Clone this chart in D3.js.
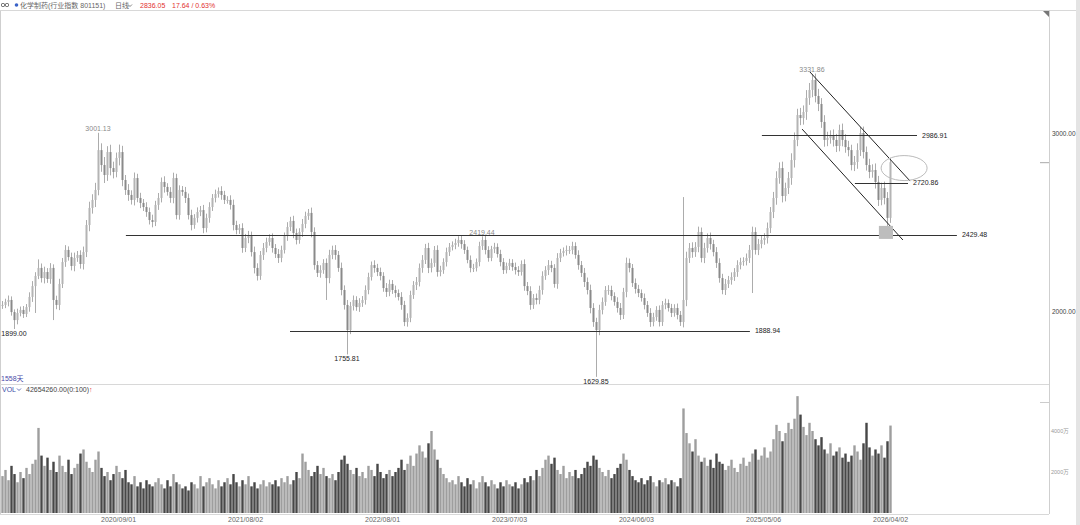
<!DOCTYPE html>
<html lang="zh">
<head>
<meta charset="UTF-8">
<title>化学制药(行业指数 801151)</title>
<script src="https://cdn.jsdelivr.net/npm/d3@7"></script>
<style>
  html, body { margin: 0; padding: 0; background: #fff; }
  svg { display: block; }
  text { font-family: "Liberation Sans", "Noto Sans CJK SC", sans-serif; }
</style>
</head>
<body>
<svg width="1080" height="525"></svg>
<script>
// closing price of each sampled bar (about 5 trading days each)
const closes = [
  2034, 2051, 2062, 1994, 1949, 1989, 2006, 1983, 2022, 2079,
  2140, 2197, 2242, 2185, 2219, 2180, 2242, 2062, 2034, 2152,
  2275, 2343, 2303, 2253, 2298, 2315, 2264, 2331, 2483, 2579,
  2624, 2680, 2904, 2820, 2764, 2893, 2803, 2781, 2860, 2893,
  2736, 2680, 2652, 2624, 2747, 2635, 2607, 2584, 2556, 2511,
  2500, 2596, 2635, 2725, 2697, 2669, 2635, 2747, 2539, 2680,
  2669, 2635, 2539, 2483, 2523, 2556, 2567, 2466, 2523, 2584,
  2635, 2657, 2674, 2652, 2624, 2624, 2596, 2483, 2455, 2466,
  2354, 2410, 2421, 2331, 2242, 2197, 2315, 2354, 2388, 2410,
  2354, 2320, 2298, 2343, 2421, 2472, 2506, 2438, 2399, 2444,
  2489, 2534, 2551, 2444, 2258, 2214, 2230, 2270, 2185, 2315,
  2343, 2315, 2242, 2118, 2034, 1893, 2028, 2062, 2022, 2045,
  2062, 2118, 2191, 2258, 2242, 2219, 2197, 2129, 2107, 2152,
  2118, 2101, 2079, 2034, 1938, 1961, 2090, 2146, 2163, 2242,
  2287, 2354, 2242, 2270, 2343, 2219, 2230, 2275, 2331, 2360,
  2371, 2382, 2399, 2376, 2343, 2287, 2242, 2242, 2275, 2365,
  2399, 2343, 2298, 2348, 2360, 2320, 2275, 2230, 2253, 2270,
  2247, 2230, 2219, 2264, 2140, 2112, 2034, 2073, 2062, 2118,
  2197, 2230, 2258, 2242, 2152, 2298, 2326, 2337, 2343, 2343,
  2365, 2315, 2258, 2214, 2163, 2118, 2017, 1938, 1893, 2006,
  2051, 2118, 2118, 2084, 2051, 2017, 1978, 2107, 2270, 2242,
  2157, 2124, 2101, 2073, 2034, 1989, 1938, 1966, 2006, 1938,
  2034, 2045, 2017, 1989, 2017, 1978, 1938, 2062, 2298, 2354,
  2331, 2360, 2444, 2298, 2354, 2410, 2376, 2331, 2270, 2185,
  2118, 2152, 2174, 2191, 2219, 2258, 2275, 2281, 2298, 2343,
  2444, 2343, 2376, 2399, 2410, 2466, 2556, 2635, 2747, 2803,
  2646, 2691, 2747, 2848, 2961, 3101, 3084, 3118, 3197, 3242,
  3298, 3208, 3163, 3062, 2961, 2972, 2983, 2961, 2927, 3017,
  2961, 2921, 2904, 2820, 2837, 2904, 3000, 2893, 2820, 2781,
  2792, 2725, 2624, 2691, 2635, 2523, 2836.05
];

// how far the daily highs/lows of each sampled bar reach past its body (points)
const spread = [
  22, 18, 25, 20, 15, 24, 19, 22, 17, 26,
  28, 21, 18, 25, 30, 22, 27, 20, 24, 29,
  23, 27, 20, 25, 30, 22, 26, 31, 28, 35,
  32, 40, 30, 38, 45, 33, 41, 36, 30, 42,
  35, 28, 33, 26, 31, 24, 29, 22, 27, 25,
  30, 23, 28, 25, 32, 21, 27, 30, 24, 26,
  22, 28, 25, 30, 21, 26, 23, 29, 24, 27,
  22, 25, 20, 27, 23, 21, 26, 30, 24, 22,
  27, 23, 29, 25, 31, 26, 22, 28, 24, 21,
  26, 22, 28, 24, 20, 27, 23, 29, 25, 21,
  28, 24, 22, 30, 26, 23, 27, 21, 25, 29,
  24, 27, 22, 30, 26, 28, 23, 25, 21, 27,
  22, 26, 24, 20, 27, 23, 25, 21, 28, 24,
  22, 25, 20, 27, 23, 26, 24, 22, 28, 25,
  27, 23, 29, 25, 22, 26, 24, 21, 25, 22,
  20, 24, 21, 26, 22, 19, 25, 23, 20, 24,
  22, 25, 21, 18, 23, 20, 24, 22, 19, 23,
  21, 25, 22, 20, 26, 23, 27, 22, 25, 24,
  26, 22, 28, 24, 21, 27, 23, 20, 25, 22,
  24, 21, 26, 23, 28, 25, 30, 27, 24, 29,
  25, 22, 27, 24, 21, 26, 28, 23, 30, 25,
  22, 26, 23, 20, 25, 22, 27, 24, 21, 25,
  22, 24, 20, 23, 21, 25, 22, 30, 35, 28,
  32, 27, 30, 25, 29, 26, 31, 24, 28, 26,
  24, 28, 23, 26, 22, 27, 24, 21, 25, 28,
  30, 26, 29, 24, 27, 31, 28, 34, 38, 32,
  36, 30, 34, 38, 42, 35, 40, 37, 44, 39,
  41, 36, 40, 33, 38, 35, 32, 37, 34, 30,
  36, 32, 35, 30, 34, 38, 33, 36, 31, 35,
  32, 37, 34, 30, 36, 33, 28
];

// volume of each sampled bar, in 万
const volumes = [
  1800, 2100, 1600, 2300, 1900, 1500, 2000, 1700, 2200, 1900,
  2400, 2600, 4150, 2800, 2300, 2700, 2100, 2500, 2000, 2800,
  2300, 2000, 2600, 1900, 2200, 2400, 2900, 3100, 2500, 2200,
  2000, 2600, 3000, 2200, 1800, 2000, 1600, 1900, 2300, 2000,
  1700, 2100, 1500, 1400, 1800, 1300, 1500, 1200, 1600, 1400,
  1300, 1500, 1700, 1400, 1200, 1600, 1300, 1900, 1500, 1400,
  1200, 1300, 1100, 1500, 1400, 1200, 1800, 1300, 1500, 1700,
  1400, 1200, 1600, 1300, 1500, 1700, 1400, 1900, 1500, 1300,
  1600, 1400, 1800, 1300, 1500, 1200, 1400, 1600, 1300, 1500,
  1400, 1600, 1300, 1700, 1500, 1800, 1400, 1600, 2000, 1700,
  2900, 2500, 2100, 1800, 2000, 2300, 1900, 2200, 1800, 1700,
  1900, 1600, 2000, 2600, 2800, 2400, 2100, 1900, 2200, 1800,
  2000, 1700, 2300, 2100, 1800, 2400, 2000, 1700, 1900, 2100,
  1800, 2000, 2200, 2600, 2100, 2400, 2800, 2300, 2900, 3300,
  3000, 2700, 3400, 4000, 3100, 2600, 2200, 1900, 1700, 1500,
  1600, 1400, 1800, 1500, 1300, 1700, 1400, 1600, 1200, 1500,
  1800, 1500, 1300, 1600, 1400, 1200, 1500, 1300, 1600, 1400,
  1300, 1500, 1200, 1400, 1700, 1500, 1800, 1600, 2100, 1800,
  2200, 2600, 2800, 2400, 2700, 2100, 1900, 2300, 1700, 2000,
  1800, 2100, 1700, 1900, 2200, 2500, 2300, 2800, 2600, 2200,
  2000, 1800, 2100, 1700, 1900, 2200, 2400, 2900, 2600, 2100,
  1800, 1600, 1500, 1700, 1400, 1600, 1800, 1500, 1300, 1600,
  1500, 1700, 1400, 1600, 1500, 1300, 1700, 5100, 3900, 3400,
  3000, 3600, 2800, 2500, 2700, 2300, 2600, 2200, 2900, 2500,
  2400, 2100, 2300, 2600, 2200, 2000, 2400, 2700, 2300, 2500,
  2900, 3100, 2600, 2800, 3200, 2700, 3000, 3600, 4300, 4000,
  3500, 3900, 4400, 4100, 4600, 5700, 4800, 4200, 3800, 4400,
  4000, 3600, 3300, 3700, 3100, 2900, 3400, 2800, 3000, 3200,
  2700, 2900, 2500, 2800, 3300, 3000, 2600, 3400, 4400, 3200,
  2800, 3100, 2900, 3300, 2700, 3500, 4265.426
];

// wick extremes that reach past the usual range
const lowIdx = [4, 11, 17, 108, 115, 198, 250, 295];
const lowVal = [1899.00, 1989, 1949, 2062, 1755.81, 1629.85, 2101, 2462];
const highIdx = [12, 32, 160, 227, 270, 296];
const highVal = [2290, 3001.13, 2419.44, 2640, 3331.86, 2860];

// labelled extremes
const markIdx = [4, 32, 115, 160, 198, 270];
const markVal = [1899.00, 3001.13, 1755.81, 2419.44, 1629.85, 3331.86];
const markSide = ["low", "high", "low", "high", "low", "high"];

// drawn support / resistance lines
const levelVal = [2429.48, 1888.94, 2986.91, 2720.86];
const levelFrom = [41.3, 96, 253.3, 284.3];
const levelTo = [318.3, 249.3, 305, 302];

// falling channel
const channelUpper = [[269.3, 3343], [302.7, 2730]];
const channelLower = [[266.7, 3022], [300.3, 2399]];

const dateLabels = ["2020/09/01", "2021/08/02", "2022/08/01", "2023/07/03", "2024/06/03", "2025/05/06", "2026/04/02"];
const dateIdx = [38.67, 81, 126.67, 169, 211.33, 253.67, 296];
const priceTicks = [2000, 3000];
const volTicks = [2000, 4000];

const svg = d3.select("svg");
const n = closes.length;

const x = d3.scaleLinear().domain([0, n - 1]).range([2, 890]);
const y = d3.scaleLinear().domain([2000, 3000]).range([311, 133]);
const yv = d3.scaleLinear().domain([0, 4000]).range([513, 431]);

const bars = closes.map((c, i) => {
  const o = i === 0 ? c : closes[i - 1];
  let hi = Math.max(o, c) + spread[i], lo = Math.min(o, c) - spread[i];
  const h = highIdx.indexOf(i), l = lowIdx.indexOf(i);
  if (h >= 0) hi = highVal[h];
  if (l >= 0) lo = lowVal[l];
  return { i, o, c, hi, lo, v: volumes[i] };
});

// frame
svg.append("rect").attr("x", 1076).attr("y", 0).attr("width", 4).attr("height", 525).attr("fill", "#e4e4e4");
svg.append("line").attr("x1", 0.5).attr("x2", 0.5).attr("y1", 10).attr("y2", 514).attr("stroke", "#cfcfcf");
svg.append("line").attr("x1", 0).attr("x2", 1076).attr("y1", 10.5).attr("y2", 10.5).attr("stroke", "#d8d8d8");
svg.append("line").attr("x1", 1049.5).attr("x2", 1049.5).attr("y1", 10).attr("y2", 514).attr("stroke", "#cfcfcf");
svg.append("line").attr("x1", 0).attr("x2", 1049).attr("y1", 384.5).attr("y2", 384.5).attr("stroke", "#d8d8d8");
svg.append("line").attr("x1", 0).attr("x2", 1049).attr("y1", 514.5).attr("y2", 514.5).attr("stroke", "#d8d8d8");
svg.append("path").attr("d", "M1043,11 L1049,11 L1049,17 Z").attr("fill", "#777");
svg.append("line").attr("x1", 1040).attr("x2", 1049).attr("y1", y(closes[n - 1]) + 0.5).attr("y2", y(closes[n - 1]) + 0.5).attr("stroke", "#aaa");
svg.append("line").attr("x1", 1040).attr("x2", 1049).attr("y1", 402.5).attr("y2", 402.5).attr("stroke", "#ccc");

// header
const head = svg.append("g");
head.append("rect").attr("x", 1.5).attr("y", 3.5).attr("width", 3).attr("height", 3).attr("rx", 1).attr("fill", "none").attr("stroke", "#555");
head.append("rect").attr("x", 5.5).attr("y", 3.5).attr("width", 3).attr("height", 3).attr("rx", 1).attr("fill", "none").attr("stroke", "#555");
head.append("circle").attr("cx", 16.5).attr("cy", 5).attr("r", 1.8).attr("fill", "#3a62c8");
head.append("text").attr("x", 20).attr("y", 7.8).attr("font-size", 7).attr("fill", "#666").text("化学制药(行业指数 801151)");
head.append("text").attr("x", 115).attr("y", 7.8).attr("font-size", 7).attr("fill", "#666").text("日线");
head.append("path").attr("d", "M128,4.5 L130,6.5 L132,4.5").attr("fill", "none").attr("stroke", "#666").attr("stroke-width", 0.8);
head.append("text").attr("x", 140).attr("y", 7.8).attr("font-size", 7).attr("fill", "#e2312f").text("2836.05");
head.append("text").attr("x", 172).attr("y", 7.8).attr("font-size", 7).attr("fill", "#e2312f").text("17.64 / 0.63%");

// candles
const cg = svg.append("g");
cg.selectAll("line.wick").data(bars).enter().append("line")
  .attr("class", "wick")
  .attr("x1", d => Math.round(x(d.i)) + 0.5).attr("x2", d => Math.round(x(d.i)) + 0.5)
  .attr("y1", d => y(d.hi)).attr("y2", d => y(d.lo))
  .attr("stroke", "#acacac").attr("stroke-width", 1);
cg.selectAll("rect.body").data(bars).enter().append("rect")
  .attr("class", "body")
  .attr("x", d => Math.round(x(d.i)) - 0.5).attr("width", 2)
  .attr("y", d => y(Math.max(d.o, d.c)))
  .attr("height", d => Math.max(1, Math.abs(y(d.o) - y(d.c))))
  .attr("fill", d => d.c >= d.o ? "#b4b4b4" : "#8a8a8a");

// volume bars
svg.append("g").selectAll("rect").data(bars).enter().append("rect")
  .attr("x", d => Math.round(x(d.i)) - 0.7).attr("width", 2.4)
  .attr("y", d => yv(d.v)).attr("height", d => yv(0) - yv(d.v))
  .attr("fill", d => d.c >= d.o ? "#9e9e9e" : "#474747");

// levels
const lg = svg.append("g");
levelVal.forEach((v, k) => {
  lg.append("line")
    .attr("x1", x(levelFrom[k])).attr("x2", x(levelTo[k]))
    .attr("y1", Math.round(y(v)) + 0.5).attr("y2", Math.round(y(v)) + 0.5)
    .attr("stroke", "#333").attr("stroke-width", 1);
  lg.append("text").attr("x", x(levelTo[k]) + 5).attr("y", y(v) + 2.5)
    .attr("font-size", 7).attr("fill", "#222").text(v.toFixed(2));
});

// channel
[channelUpper, channelLower].forEach(seg => {
  lg.append("line")
    .attr("x1", x(seg[0][0])).attr("y1", y(seg[0][1]))
    .attr("x2", x(seg[1][0])).attr("y2", y(seg[1][1]))
    .attr("stroke", "#222").attr("stroke-width", 1);
});

// ellipse and shaded box near the end
lg.append("ellipse").attr("cx", x(300.7)).attr("cy", y(2803)).attr("rx", 23).attr("ry", 12.5)
  .attr("fill", "none").attr("stroke", "#bbb").attr("stroke-width", 1);
lg.append("rect").attr("x", x(292.3)).attr("y", y(2478)).attr("width", x(297) - x(292.3)).attr("height", y(2405) - y(2478))
  .attr("fill", "#bdbdbd");

// extreme labels
markIdx.forEach((i, k) => {
  const hi = markSide[k] === "high";
  lg.append("text").attr("x", x(i)).attr("y", hi ? y(markVal[k]) - 1.5 : y(markVal[k]) + 7)
    .attr("text-anchor", "middle").attr("font-size", 7)
    .attr("fill", hi ? "#8a8a8a" : "#222").text(markVal[k].toFixed(2));
});

// price axis
const pa = svg.append("g").attr("transform", "translate(1050,0)")
  .call(d3.axisRight(y).tickValues(priceTicks).tickSize(0).tickPadding(2).tickFormat(d3.format(".2f")));
pa.select(".domain").remove();
pa.selectAll("text").attr("font-size", 6.5).attr("fill", "#444").attr("font-family", "Liberation Sans");

// volume axis
const va = svg.append("g").attr("transform", "translate(1050,0)")
  .call(d3.axisRight(yv).tickValues(volTicks).tickSize(0).tickPadding(1).tickFormat(d => d + "万"));
va.select(".domain").remove();
va.selectAll("text").attr("font-size", 5.5).attr("fill", "#999").attr("font-family", "Liberation Sans");

// date axis
const da = svg.append("g").attr("transform", "translate(0,515)")
  .call(d3.axisBottom(x).tickValues(dateIdx).tickSize(0).tickPadding(2).tickFormat((d, k) => dateLabels[k]));
da.select(".domain").remove();
da.selectAll("text").attr("font-size", 7).attr("fill", "#666").attr("font-family", "Liberation Sans");

// panel captions
svg.append("text").attr("x", 1).attr("y", 381).attr("font-size", 7).attr("fill", "#4a4aa8").text("1558天");
svg.append("text").attr("x", 2).attr("y", 391.5).attr("font-size", 7).attr("fill", "#3d4fa8").text("VOL");
svg.append("path").attr("d", "M17,388.5 L19,390.5 L21,388.5").attr("fill", "none").attr("stroke", "#3d4fa8").attr("stroke-width", 0.8);
svg.append("text").attr("x", 26).attr("y", 391.5).attr("font-size", 7).attr("fill", "#444").text("42654260.00(0:100)");
svg.append("text").attr("x", 89).attr("y", 391.5).attr("font-size", 7).attr("fill", "#e2312f").text("↑");
</script>
</body>
</html>
